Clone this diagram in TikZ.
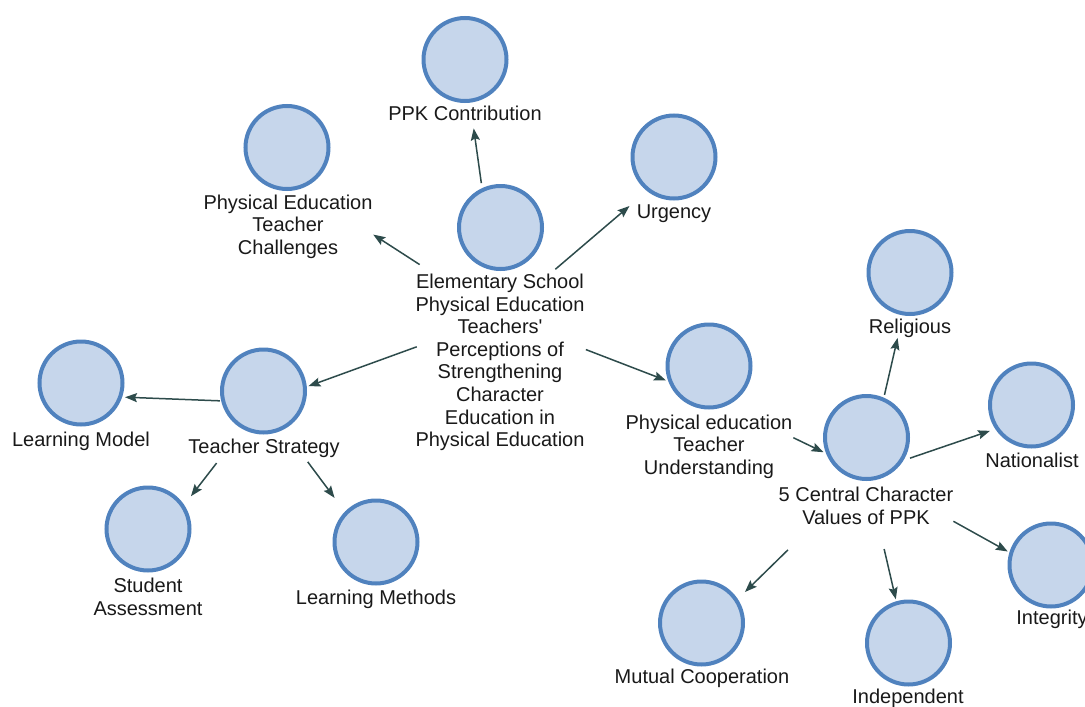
\documentclass[tikz,border=0pt]{standalone}
\usepackage{fontspec}
\setmainfont{Liberation Sans}
\usetikzlibrary{calc,arrows.meta}
\definecolor{cfill}{RGB}{198,214,235}
\definecolor{cborder}{RGB}{80,130,190}
\definecolor{arrcol}{RGB}{45,75,75}
\newcommand\lblfont{\fontsize{20}{22.6}\selectfont}
\newcommand\straightq{\XeTeXglyph\XeTeXglyphindex "quotesingle"\relax}
\tikzset{
  concept/.style={circle, draw=cborder, fill=cfill, line width=4pt, minimum size=83pt, inner sep=0pt},
  lbl/.style={align=center, font=\lblfont, inner sep=0pt, text=black!90},
  arr/.style={draw=arrcol, line width=1.5pt, -{Stealth[length=12pt,width=9pt,inset=2pt]}},
}
\begin{document}
\begin{tikzpicture}[x=1pt,y=-1pt]
\useasboundingbox (0,0) rectangle (1085,707);
% circles
\node[concept] (c0) at (500.5,227.5) {};
\node[concept] (c1) at (465,59.5) {};
\node[concept] (c2) at (287,147.5) {};
\node[concept] (c3) at (674,157) {};
\node[concept] (c4) at (263.5,391) {};
\node[concept] (c5) at (81,383) {};
\node[concept] (c6) at (148,529) {};
\node[concept] (c7) at (376,542) {};
\node[concept] (c8) at (709,366) {};
\node[concept] (c9) at (866.5,437.5) {};
\node[concept] (c10) at (910,272.5) {};
\node[concept] (c11) at (1031.5,405) {};
\node[concept] (c12) at (1051,565) {};
\node[concept] (c13) at (908.5,643) {};
\node[concept] (c14) at (701.5,623) {};
% labels
\node[lbl] (l0) at (500,362.5) {Elementary School\\Physical Education\\Teachers\straightq\\Perceptions of\\Strengthening\\Character\\Education in\\Physical Education};
\node[lbl] (l1) at (465,113) {PPK Contribution};
\node[lbl] (l2) at (288,226.5) {Physical Education\\Teacher\\Challenges};
\node[lbl] (l3) at (674,214) {Urgency};
\node[lbl] (l4) at (264,448) {Teacher Strategy};
\node[lbl] (l5) at (81,441) {Learning Model};
\node[lbl] (l6) at (148,597) {Student\\Assessment};
\node[lbl] (l7) at (376,599) {Learning Methods};
\node[lbl] (l8) at (709,446.5) {Physical education\\Teacher\\Understanding};
\node[lbl] (l9) at (866,506) {5 Central Character\\Values of PPK};
\node[lbl] (l10) at (910,328) {Religious};
\node[lbl] (l11) at (1032,460) {Nationalist};
\node[lbl] (l12) at (1052,619.5) {Integrity};
\node[lbl] (l13) at (908,698) {Independent};
\node[lbl] (l14) at (702,678.5) {Mutual Cooperation};
% hubs (centres of each concept's circle + label area)
\coordinate (h0) at (500,316.5);
\coordinate (h1) at (465.5,70);
\coordinate (h2) at (288,179.5);
\coordinate (h3) at (674,168);
\coordinate (h4) at (263.5,402.5);
\coordinate (h5) at (81,395.5);
\coordinate (h6) at (148.5,551);
\coordinate (h7) at (376,553.5);
\coordinate (h8) at (709,397);
\coordinate (h9) at (866.5,473);
\coordinate (h10) at (910,284);
\coordinate (h11) at (1032,416.5);
\coordinate (h12) at (1051,575.5);
\coordinate (h13) at (908.5,654);
\coordinate (h14) at (702,634);
% connectors
\draw[arr] ($(h0)!0.541!(h1)$) -- ($(h0)!0.763!(h1)$);
\draw[arr] ($(h0)!0.379!(h2)$) -- ($(h0)!0.598!(h2)$);
\draw[arr] ($(h0)!0.318!(h3)$) -- ($(h0)!0.744!(h3)$);
\draw[arr] ($(h0)!0.352!(h4)$) -- ($(h0)!0.810!(h4)$);
\draw[arr] ($(h0)!0.411!(h8)$) -- ($(h0)!0.794!(h8)$);
\draw[arr] ($(h4)!0.2385!(h5)$) -- ($(h4)!0.759!(h5)$);
\draw[arr] ($(h4)!0.408!(h6)$) -- ($(h4)!0.631!(h6)$);
\draw[arr] ($(h4)!0.393!(h7)$) -- ($(h4)!0.6315!(h7)$);
\draw[arr] ($(h8)!0.5357!(h9)$) -- ($(h8)!0.727!(h9)$);
\draw[arr] ($(h9)!0.4133!(h10)$) -- ($(h9)!0.7148!(h10)$);
\draw[arr] ($(h9)!0.263!(h11)$) -- ($(h9)!0.746!(h11)$);
\draw[arr] ($(h9)!0.471!(h12)$) -- ($(h9)!0.7656!(h12)$);
\draw[arr] ($(h9)!0.42!(h13)$) -- ($(h9)!0.698!(h13)$);
\draw[arr] ($(h9)!0.4777!(h14)$) -- ($(h9)!0.739!(h14)$);
\end{tikzpicture}
\end{document}
